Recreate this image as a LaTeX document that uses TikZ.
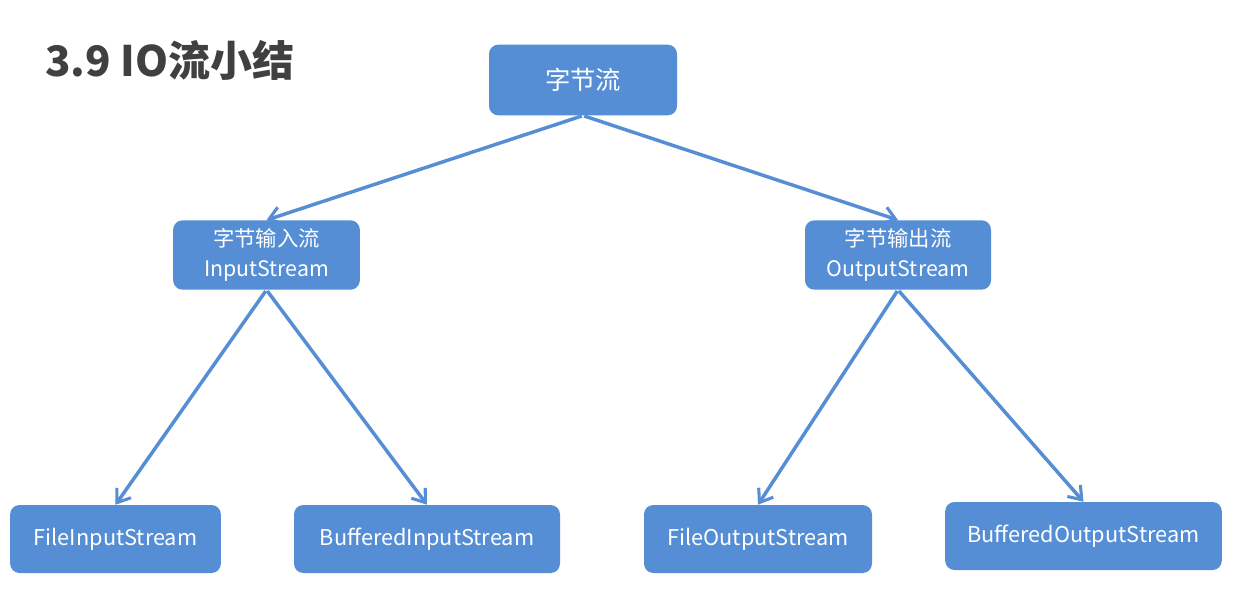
\documentclass[tikz,border=0pt]{standalone}
\usepackage{fontspec}
\setmainfont{Noto Sans CJK SC}
\usetikzlibrary{arrows.meta}
\definecolor{boxblue}{RGB}{85,142,213}
\definecolor{titlegray}{RGB}{64,64,64}
\tikzset{
  box/.style={draw=none, fill=boxblue, rounded corners=7pt, text=white, align=center, inner sep=0pt, font=\fontsize{16.3}{19}\selectfont},
  link/.style={draw=boxblue, line width=2.6pt, -{Straight Barb[length=9pt,width=13pt,line width=2.3pt]}, shorten <=1pt}
}
\begin{document}
\begin{tikzpicture}[x=0.75pt,y=-0.75pt]
\useasboundingbox[fill=white] (0,0) rectangle (1238,602);
\node[anchor=west, text=titlegray, font=\fontsize{31.5}{36}\selectfont\bfseries, inner sep=0pt] (title) at (45,60) {3.9 IO流小结};
\node[box, minimum width=141pt, minimum height=53pt, font=\fontsize{19}{22}\selectfont] (root) at (583,80) {字节流};
\node[box, minimum width=140pt, minimum height=52pt, font=\fontsize{16}{22}\selectfont] (in) at (266.5,255) {字节输入流\\InputStream};
\node[box, minimum width=139.5pt, minimum height=52pt, font=\fontsize{16}{22}\selectfont] (out) at (898,255) {字节输出流\\OutputStream};
\node[box, minimum width=158pt, minimum height=51pt] (fis) at (115.5,539) {\raisebox{-1.5pt}{FileInputStream}};
\node[box, minimum width=199.5pt, minimum height=51pt] (bis) at (427,539) {\raisebox{-1.5pt}{BufferedInputStream}};
\node[box, minimum width=171pt, minimum height=51pt] (fos) at (758,539) {\raisebox{-1.5pt}{FileOutputStream}};
\node[box, minimum width=207.5pt, minimum height=51pt] (bos) at (1083.5,536) {\raisebox{-1.5pt}{BufferedOutputStream}};
\draw[link] (root.south) -- (in.north);
\draw[link] (root.south) -- (out.north);
\draw[link] (in.south) -- (fis.north);
\draw[link] (in.south) -- (bis.north);
\draw[link] (out.south) -- (fos.north);
\draw[link] (out.south) -- (bos.north);
\end{tikzpicture}
\end{document}
